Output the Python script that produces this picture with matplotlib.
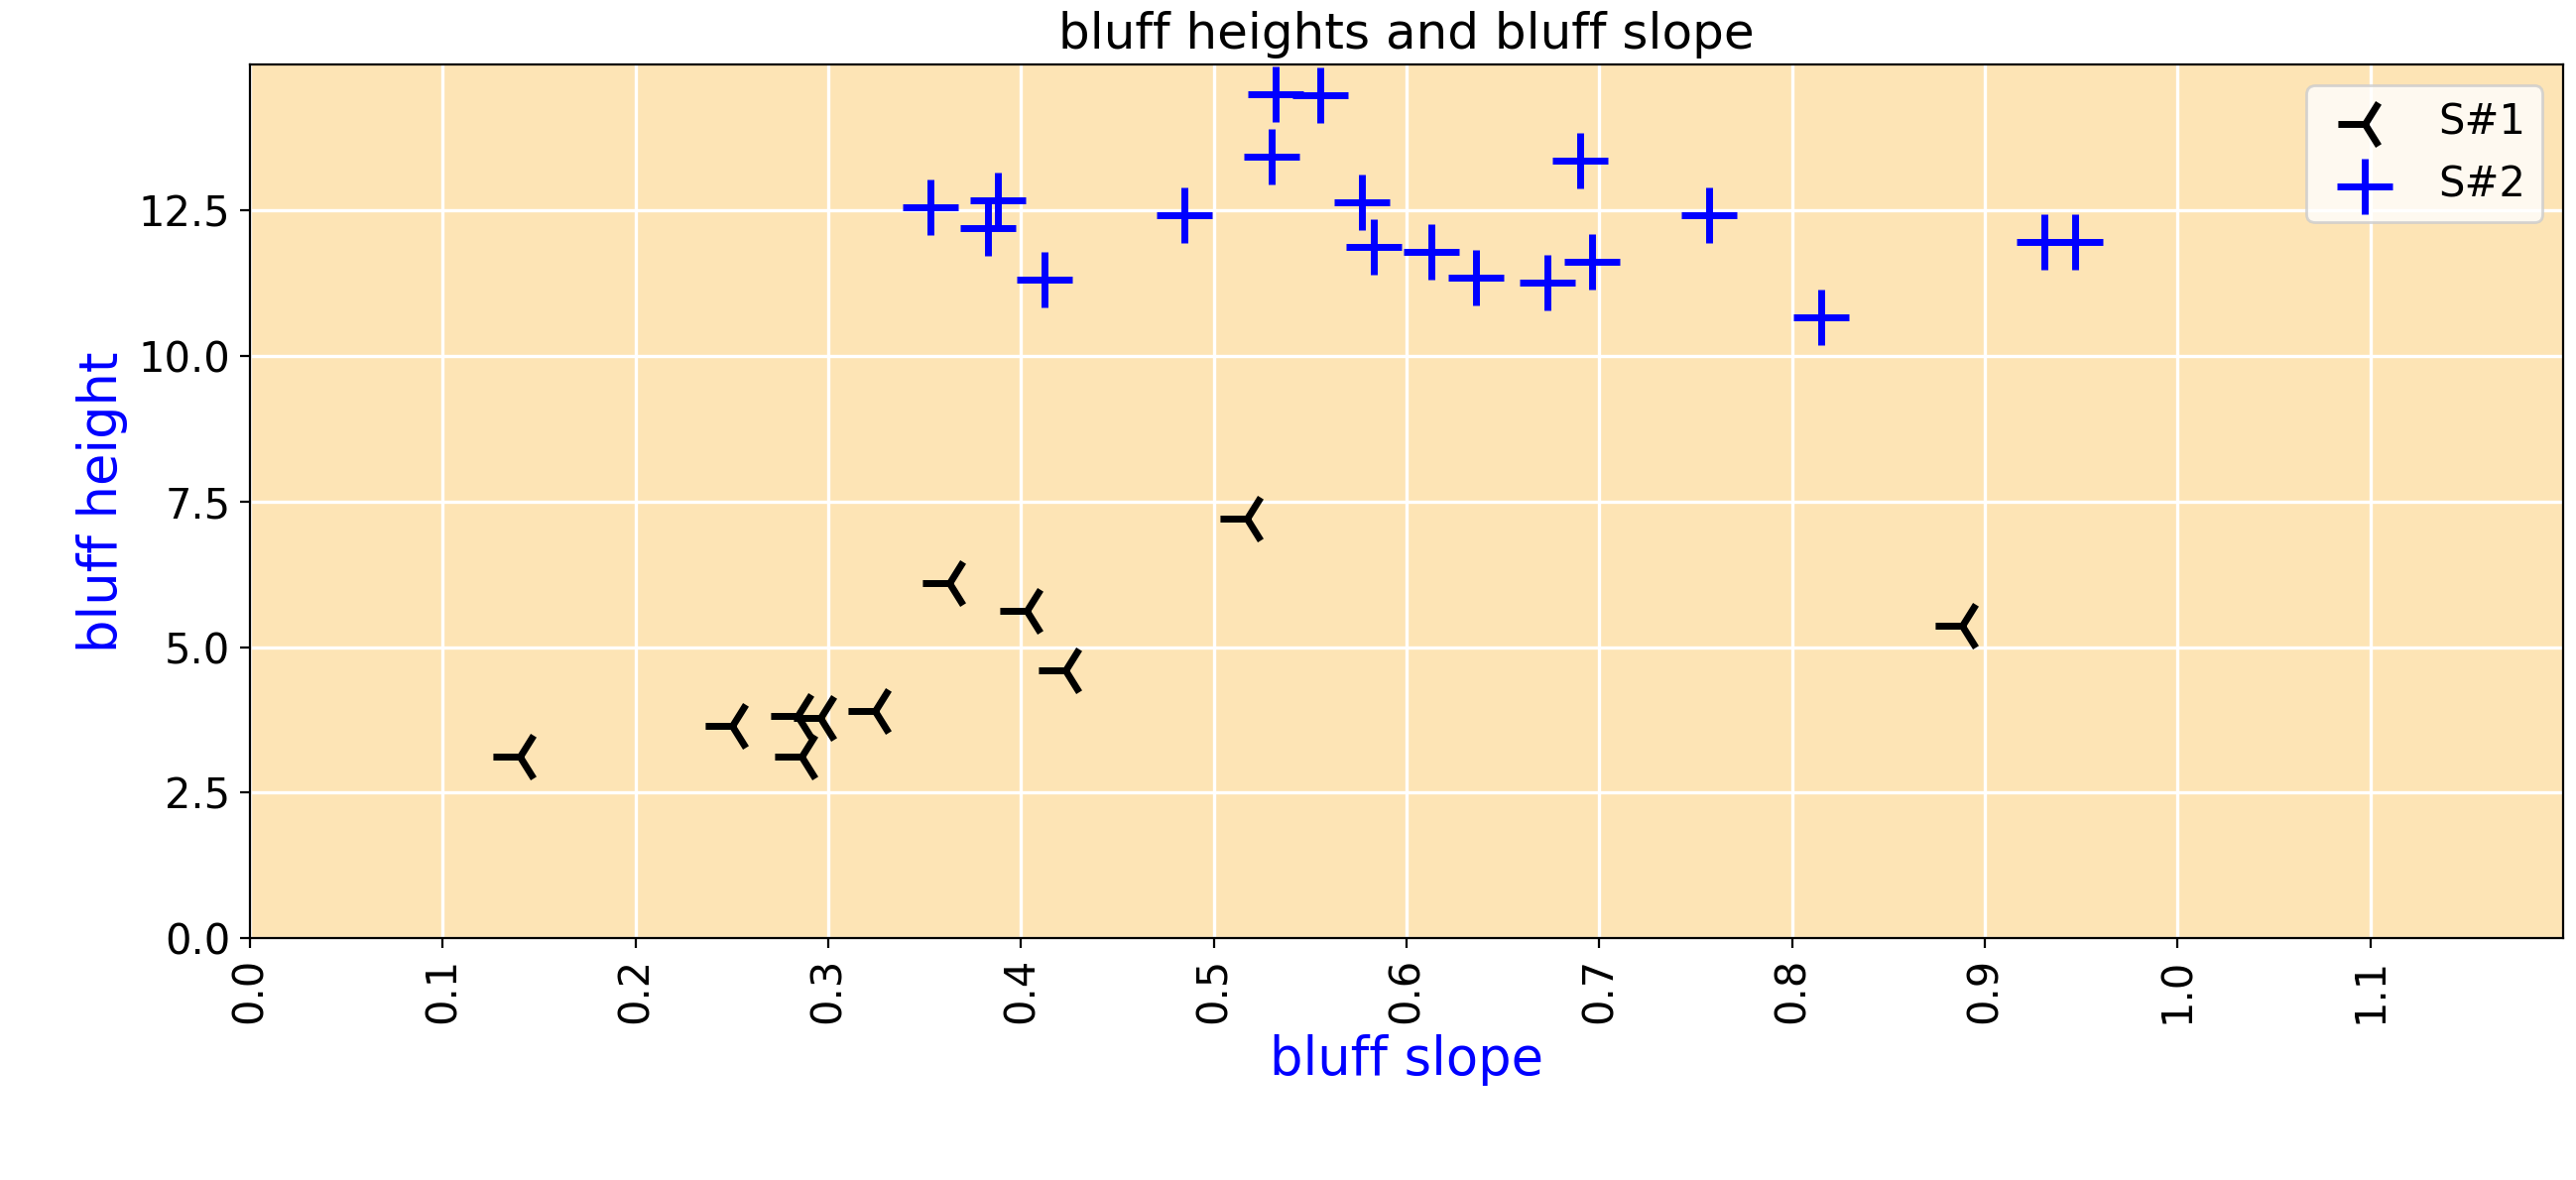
import numpy as np
import matplotlib.pyplot as plt

s1_slope = [0.140, 0.250, 0.284, 0.286, 0.296, 0.324, 0.363, 0.403, 0.423, 0.517, 0.888]
s1_height = [3.11, 3.65, 3.82, 3.11, 3.79, 3.90, 6.10, 5.63, 4.60, 7.20, 5.37]

s2_slope = [0.353, 0.388, 0.383, 0.412, 0.485, 0.532, 0.555, 0.530, 0.577, 0.583,
            0.613, 0.636, 0.673, 0.690, 0.696, 0.757, 0.815, 0.931, 0.947]
s2_height = [12.56, 12.67, 12.19, 11.31, 12.42, 14.50, 14.48, 13.43, 12.64, 11.88,
             11.79, 11.34, 11.26, 13.35, 11.62, 12.42, 10.66, 11.96, 11.96]

fig, ax = plt.subplots(figsize=(12.985, 5.95), dpi=200)
ax.set_facecolor('#fde4b5')
ax.grid(True, color='white', linewidth=1.2)
ax.set_axisbelow(True)

ax.scatter(s1_slope, s1_height, marker='3', s=380, c='black', linewidths=2.5, label='S#1')
ax.scatter(s2_slope, s2_height, marker='+', s=420, c='blue', linewidths=2.5, label='S#2')

ax.set_xlim(0, 1.2)
ax.set_ylim(0, 15)
ax.set_xticks(np.arange(0, 1.15, 0.1))
ax.set_yticks(np.arange(0, 13, 2.5))
ax.tick_params(axis='x', labelrotation=90, labelsize=15)
ax.tick_params(axis='y', labelsize=15)
ax.set_xlabel('bluff slope', color='blue', fontsize=19)
ax.set_ylabel('bluff height', color='blue', fontsize=19)
ax.set_title('bluff heights and bluff slope', fontsize=18)
ax.legend(fontsize=15, loc='upper right')

fig.subplots_adjust(left=0.097, right=0.995, top=0.945, bottom=0.205)
fig.savefig('out.png', dpi=200)
